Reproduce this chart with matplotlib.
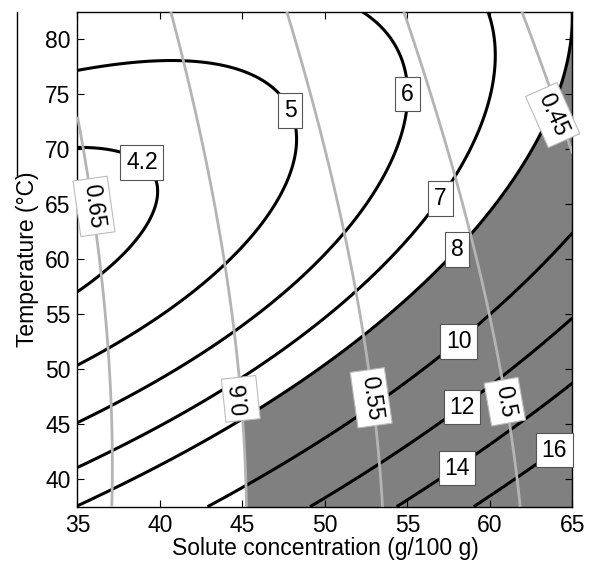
import numpy as np
import matplotlib
matplotlib.use("Agg")
import matplotlib.pyplot as plt
from matplotlib.lines import Line2D

plt.rcParams["font.family"] = ["Liberation Sans", "DejaVu Sans"]

# ---------------- data ----------------
# black contours (levels and traced points along each line)
visc_levels = [4.2, 5, 6, 7, 8, 10, 12, 14, 16]
visc_4p2_x = [35.0, 37.5, 39.7, 39.8, 39.6, 38.9, 37.2, 35.0]
visc_4p2_y = [70.2, 69.8, 67.2, 65.7, 64.2, 62.0, 59.9, 57.5]
visc_5_x = [35.0, 37.9, 41.1, 43.9, 45.15, 46.06, 48.1, 47.9, 47.1, 45.9, 45.15, 44.0, 41.9, 38.9, 35.0]
visc_5_y = [77.1, 77.8, 78.2, 77.8, 77.1, 76.3, 71.7, 69.0, 65.7, 62.65, 61.5, 59.9, 56.4, 53.1, 50.4]
visc_6_x = [51.8, 53.9, 54.85, 54.85, 54.35, 53.3, 51.3, 49.5, 44.85, 40.0, 35.0]
visc_6_y = [82.5, 80.5, 77.2, 72.95, 68.7, 65.7, 62.65, 59.9, 53.9, 49.3, 45.1]
visc_7_x = [59.9, 60.4, 60.1, 59.1, 57.9, 56.1, 54.85, 53.5, 51.9, 44.85, 40.0, 35.0]
visc_7_y = [82.5, 79.0, 75.1, 70.8, 67.5, 63.85, 61.75, 59.9, 57.2, 49.2, 44.8, 41.0]
visc_8_x = [64.95, 64.65, 63.2, 61.6, 58.9, 55.15, 51.9, 46.06, 40.0, 35.0]
visc_8_y = [82.35, 76.6, 72.05, 69.3, 61.85, 56.75, 52.8, 46.45, 41.5, 37.6]
visc_10_x = [64.85, 63.7, 61.3, 59.1, 57.1, 54.85, 51.9, 45.25, 43.1]
visc_10_y = [62.35, 59.9, 56.1, 53.9, 51.1, 48.7, 45.5, 39.5, 37.6]
visc_12_x = [64.95, 61.1, 59.3, 57.3, 54.85, 49.2]
visc_12_y = [54.6, 49.9, 47.95, 45.2, 42.95, 37.6]
visc_14_x = [64.95, 61.5, 59.0, 57.0, 54.4]
visc_14_y = [48.9, 45.2, 42.35, 39.6, 37.6]
visc_16_x = [64.95, 62.9, 61.5, 58.9]
visc_16_y = [43.4, 41.3, 40.1, 37.6]

# grey contours
aw_levels = [0.45, 0.5, 0.55, 0.6, 0.65]
aw_065_x = [35.0, 36.0, 36.26, 36.87, 37.07]
aw_065_y = [72.7, 64.8, 60.4, 51.9, 37.5]
aw_060_x = [40.6, 41.4, 43.85, 44.35, 44.75, 45.25]
aw_060_y = [82.65, 78.1, 60.2, 54.3, 49.8, 37.5]
aw_055_x = [47.7, 48.9, 50.1, 51.5, 52.3, 53.5]
aw_055_y = [82.65, 76.6, 69.0, 60.0, 54.3, 37.6]
aw_050_x = [54.85, 57.9, 59.1, 60.0, 60.7, 61.8]
aw_050_y = [82.0, 67.5, 60.0, 54.9, 49.5, 37.6]
aw_045_x = [61.9, 63.5, 64.85]
aw_045_y = [82.65, 76.0, 70.5]

# feasible region limits
visc_min = 8
aw_max = 0.6

# ---------------- layout (label placement) ----------------
visc_label_pos = {4.2: (38.9, 68.8), 5: (47.9, 73.5), 6: (55.0, 75.0), 7: (57.0, 65.5),
                  8: (58.0, 60.9), 10: (58.1, 52.5), 12: (58.3, 46.55), 14: (58.0, 41.0),
                  16: (63.9, 42.65)}
aw_label_pos = {0.65: (36.0, 64.8, -82), 0.6: (44.9, 47.3, 96), 0.55: (52.8, 47.4, -82),
                0.5: (60.9, 47.05, -80), 0.45: (63.8, 73.1, -66)}


def design(x, y, deg):
    u = (np.asarray(x, float) - 50.0) / 15.0
    v = (np.asarray(y, float) - 60.0) / 22.5
    cols = [u ** i * v ** j for i in range(deg + 1) for j in range(deg + 1 - i)]
    return np.stack(cols, axis=-1)


def fit_surface(lines, deg):
    xs, ys, zs = [], [], []
    for lev, lx, ly in lines:
        xs += list(lx)
        ys += list(ly)
        zs += [lev] * len(lx)
    A = design(xs, ys, deg)
    coef, *_ = np.linalg.lstsq(A, np.array(zs), rcond=None)
    return coef


visc_lines = [(4.2, visc_4p2_x, visc_4p2_y), (5, visc_5_x, visc_5_y), (6, visc_6_x, visc_6_y),
              (7, visc_7_x, visc_7_y), (8, visc_8_x, visc_8_y), (10, visc_10_x, visc_10_y),
              (12, visc_12_x, visc_12_y), (14, visc_14_x, visc_14_y), (16, visc_16_x, visc_16_y)]
aw_lines = [(0.65, aw_065_x, aw_065_y), (0.6, aw_060_x, aw_060_y), (0.55, aw_055_x, aw_055_y),
            (0.5, aw_050_x, aw_050_y), (0.45, aw_045_x, aw_045_y)]

cb = fit_surface(visc_lines, 4)
cg = fit_surface(aw_lines, 3)

gx = np.linspace(35, 65, 401)
gy = np.linspace(37.5, 82.5, 401)
X, Y = np.meshgrid(gx, gy)
Zb = design(X, Y, 4) @ cb
Zg = design(X, Y, 3) @ cg

fig = plt.figure(figsize=(5.92, 5.64), dpi=100)
ax = fig.add_axes([0.1309, 0.1016, 0.8361, 0.8777])

feas = np.minimum(Zb - visc_min, (aw_max - Zg) * 40)
ax.contourf(X, Y, feas, levels=[0, 1e9], colors=["#808080"], zorder=1)
ax.contour(X, Y, Zb, levels=visc_levels, colors="black", linewidths=2.2, zorder=2)
ax.contour(X, Y, Zg, levels=aw_levels, colors="#b4b4b4", linewidths=2.0, zorder=3)

for lev, (lx, ly) in visc_label_pos.items():
    ax.text(lx, ly, f"{lev:g}", fontsize=16.5, ha="center", va="center", zorder=5,
            bbox=dict(boxstyle="square,pad=0.25", fc="white", ec="#555555", lw=0.8))
for lev, (lx, ly, rot) in aw_label_pos.items():
    ax.text(lx, ly, f"{lev:g}", fontsize=16.5, ha="center", va="center", rotation=rot,
            rotation_mode="anchor", zorder=5,
            bbox=dict(boxstyle="square,pad=0.25", fc="white", ec="#bbbbbb", lw=0.8))

ax.set_xlim(35, 65)
ax.set_ylim(37.5, 82.5)
ax.set_xticks([35, 40, 45, 50, 55, 60, 65])
ax.set_yticks([40, 45, 50, 55, 60, 65, 70, 75, 80])
ax.tick_params(direction="in", top=True, right=True, length=5, width=0.8, labelsize=16.5, pad=5)
for s in ax.spines.values():
    s.set_linewidth(1.0)
ax.set_xlabel("Solute concentration (g/100 g)", fontsize=16.5, labelpad=0)
ax.set_ylabel("Temperature (\u00b0C)", fontsize=16.5, labelpad=4)

# thin vertical rule at the far left of the reference image
fig.add_artist(Line2D([16.5 / 592, 16.5 / 592], [1 - 11.5 / 564, 1 - 175 / 564],
                      transform=fig.transFigure, color="black", lw=1.0))

fig.savefig("out.png", dpi=100)
